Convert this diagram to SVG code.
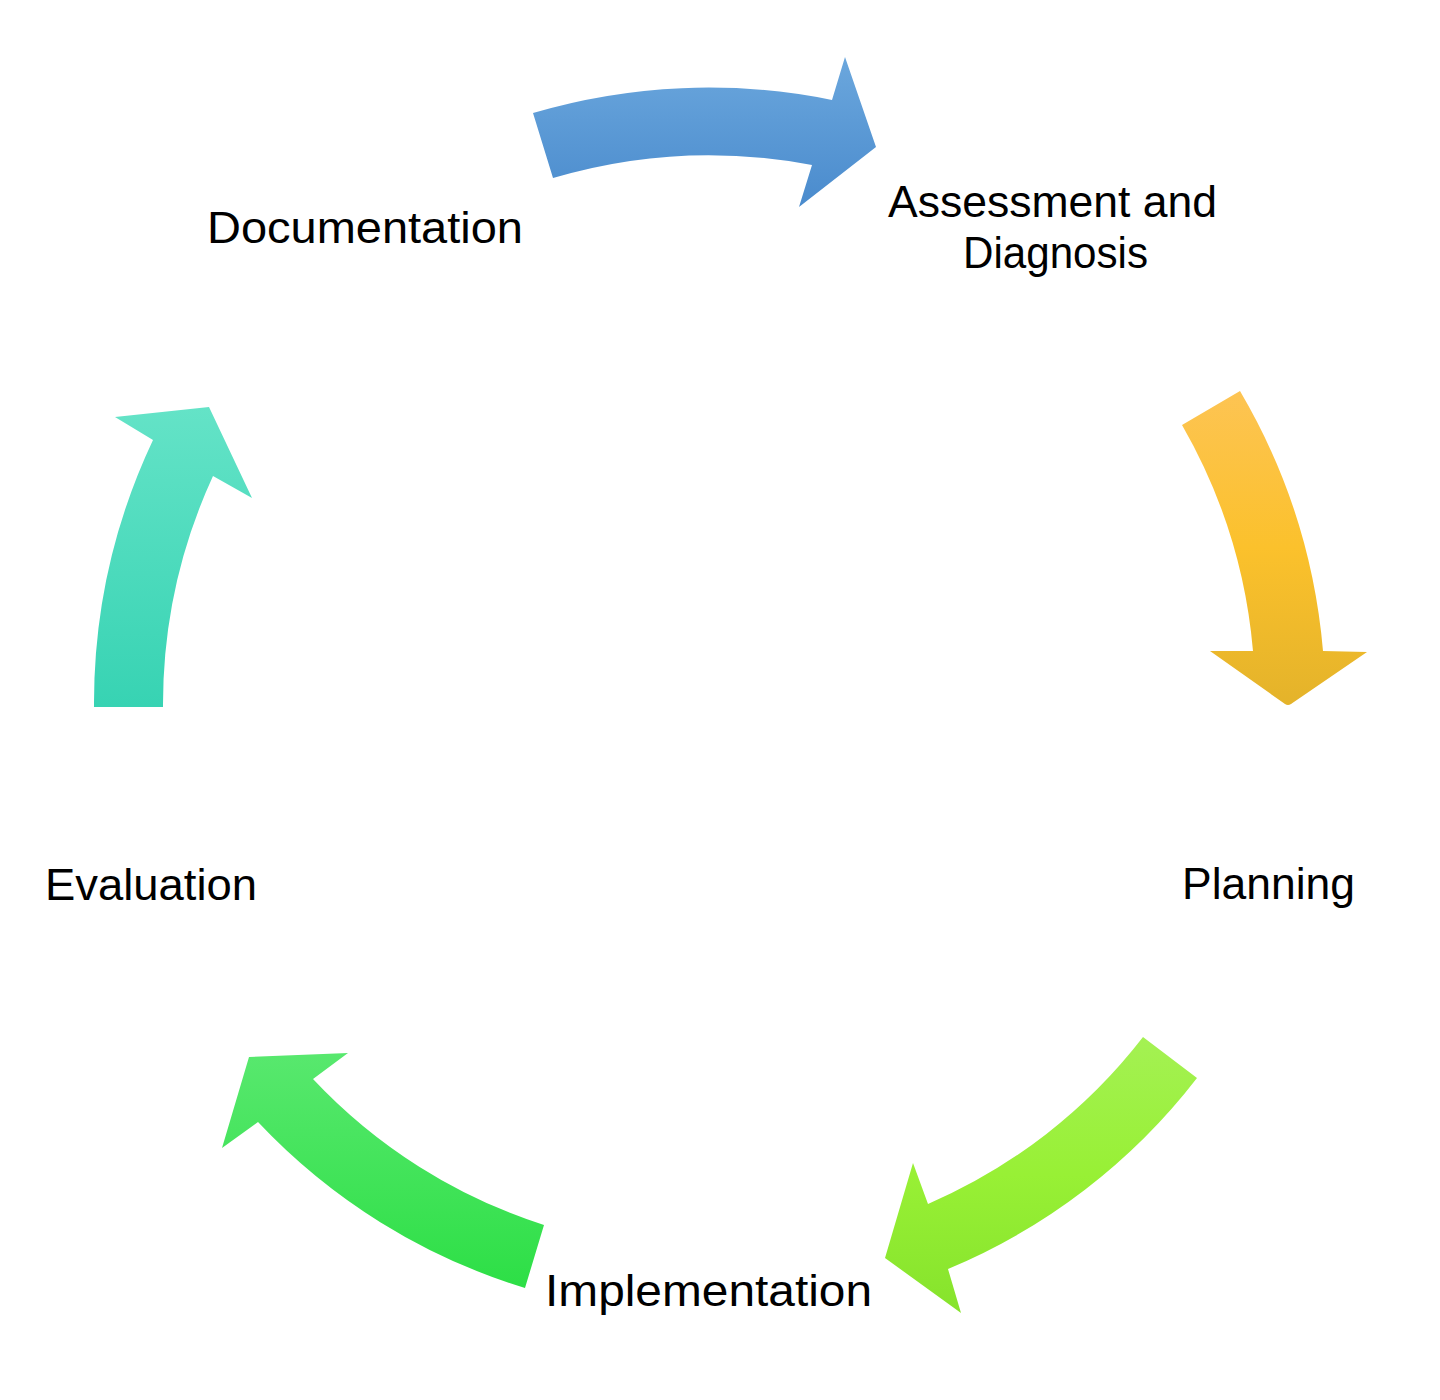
<svg xmlns="http://www.w3.org/2000/svg" width="1440" height="1400" viewBox="0 0 1440 1400">
  <style>
    .lbl { font-family: "Liberation Sans", Arial, sans-serif; font-size: 45px; fill: #000; }
  </style>
  <defs>
    <linearGradient id="gBlue" x1="0" y1="0" x2="0" y2="1">
      <stop offset="0" stop-color="#6ba7dd"/>
      <stop offset="1" stop-color="#4a8bcd"/>
    </linearGradient>
    <linearGradient id="gYellow" x1="0" y1="0" x2="0" y2="1">
      <stop offset="0" stop-color="#fdc453"/>
      <stop offset="0.5" stop-color="#fbc12c"/>
      <stop offset="1" stop-color="#e4b32a"/>
    </linearGradient>
    <linearGradient id="gLime" x1="0" y1="0" x2="0" y2="1">
      <stop offset="0" stop-color="#a4f153"/>
      <stop offset="0.5" stop-color="#98f035"/>
      <stop offset="1" stop-color="#86e32c"/>
    </linearGradient>
    <linearGradient id="gGreen" x1="0" y1="0" x2="0" y2="1">
      <stop offset="0" stop-color="#58e86e"/>
      <stop offset="1" stop-color="#2ddf46"/>
    </linearGradient>
    <linearGradient id="gTeal" x1="0" y1="0" x2="0" y2="1">
      <stop offset="0" stop-color="#64e3c7"/>
      <stop offset="1" stop-color="#37d3b3"/>
    </linearGradient>
  </defs>
  <rect width="1440" height="1400" fill="#ffffff"/>

  <g id="connectors">
    <path id="arrow-doc-assess" fill="url(#gBlue)" d="M533,113 A619,619 0 0 1 832,100 L845,57 L876,147 L799,207 L812,165 A551,551 0 0 0 553,178 Z"/>
    <path id="arrow-assess-plan" fill="url(#gYellow)" d="M1240,391 A617,617 0 0 1 1323,651 L1367,652 L1291,704 Q1288,706 1285,704 L1210,651 L1253,651 A548,548 0 0 0 1182,425 Z"/>
    <path id="arrow-plan-impl" fill="url(#gLime)" d="M1197,1078 A612,612 0 0 1 948,1269 L961,1313 L885,1258 L913,1163 L928,1204 A544,544 0 0 0 1143,1037 Z"/>
    <path id="arrow-impl-eval" fill="url(#gGreen)" d="M525,1288 A612,612 0 0 1 258,1122 L222,1148 L249,1057 L348,1053 L313,1079 A544,544 0 0 0 544,1225 Z"/>
    <path id="arrow-eval-doc" fill="url(#gTeal)" d="M94,707 A617,617 0 0 1 153,440 L115,417 L209,407 L252,498 L213,476 A548,548 0 0 0 163,707 Z"/>
  </g>

  <g id="node-documentation">
    <text class="lbl" x="207" y="243" textLength="316" lengthAdjust="spacingAndGlyphs">Documentation</text>
  </g>
  <g id="node-assessment">
    <text class="lbl"><tspan x="888" y="217" textLength="329" lengthAdjust="spacingAndGlyphs">Assessment and</tspan><tspan x="963" y="268" textLength="185" lengthAdjust="spacingAndGlyphs">Diagnosis</tspan></text>
  </g>
  <g id="node-planning">
    <text class="lbl" x="1182" y="899" textLength="173" lengthAdjust="spacingAndGlyphs">Planning</text>
  </g>
  <g id="node-implementation">
    <text class="lbl" x="545" y="1306" textLength="327" lengthAdjust="spacingAndGlyphs">Implementation</text>
  </g>
  <g id="node-evaluation">
    <text class="lbl" x="45" y="900" textLength="212" lengthAdjust="spacingAndGlyphs">Evaluation</text>
  </g>
</svg>
